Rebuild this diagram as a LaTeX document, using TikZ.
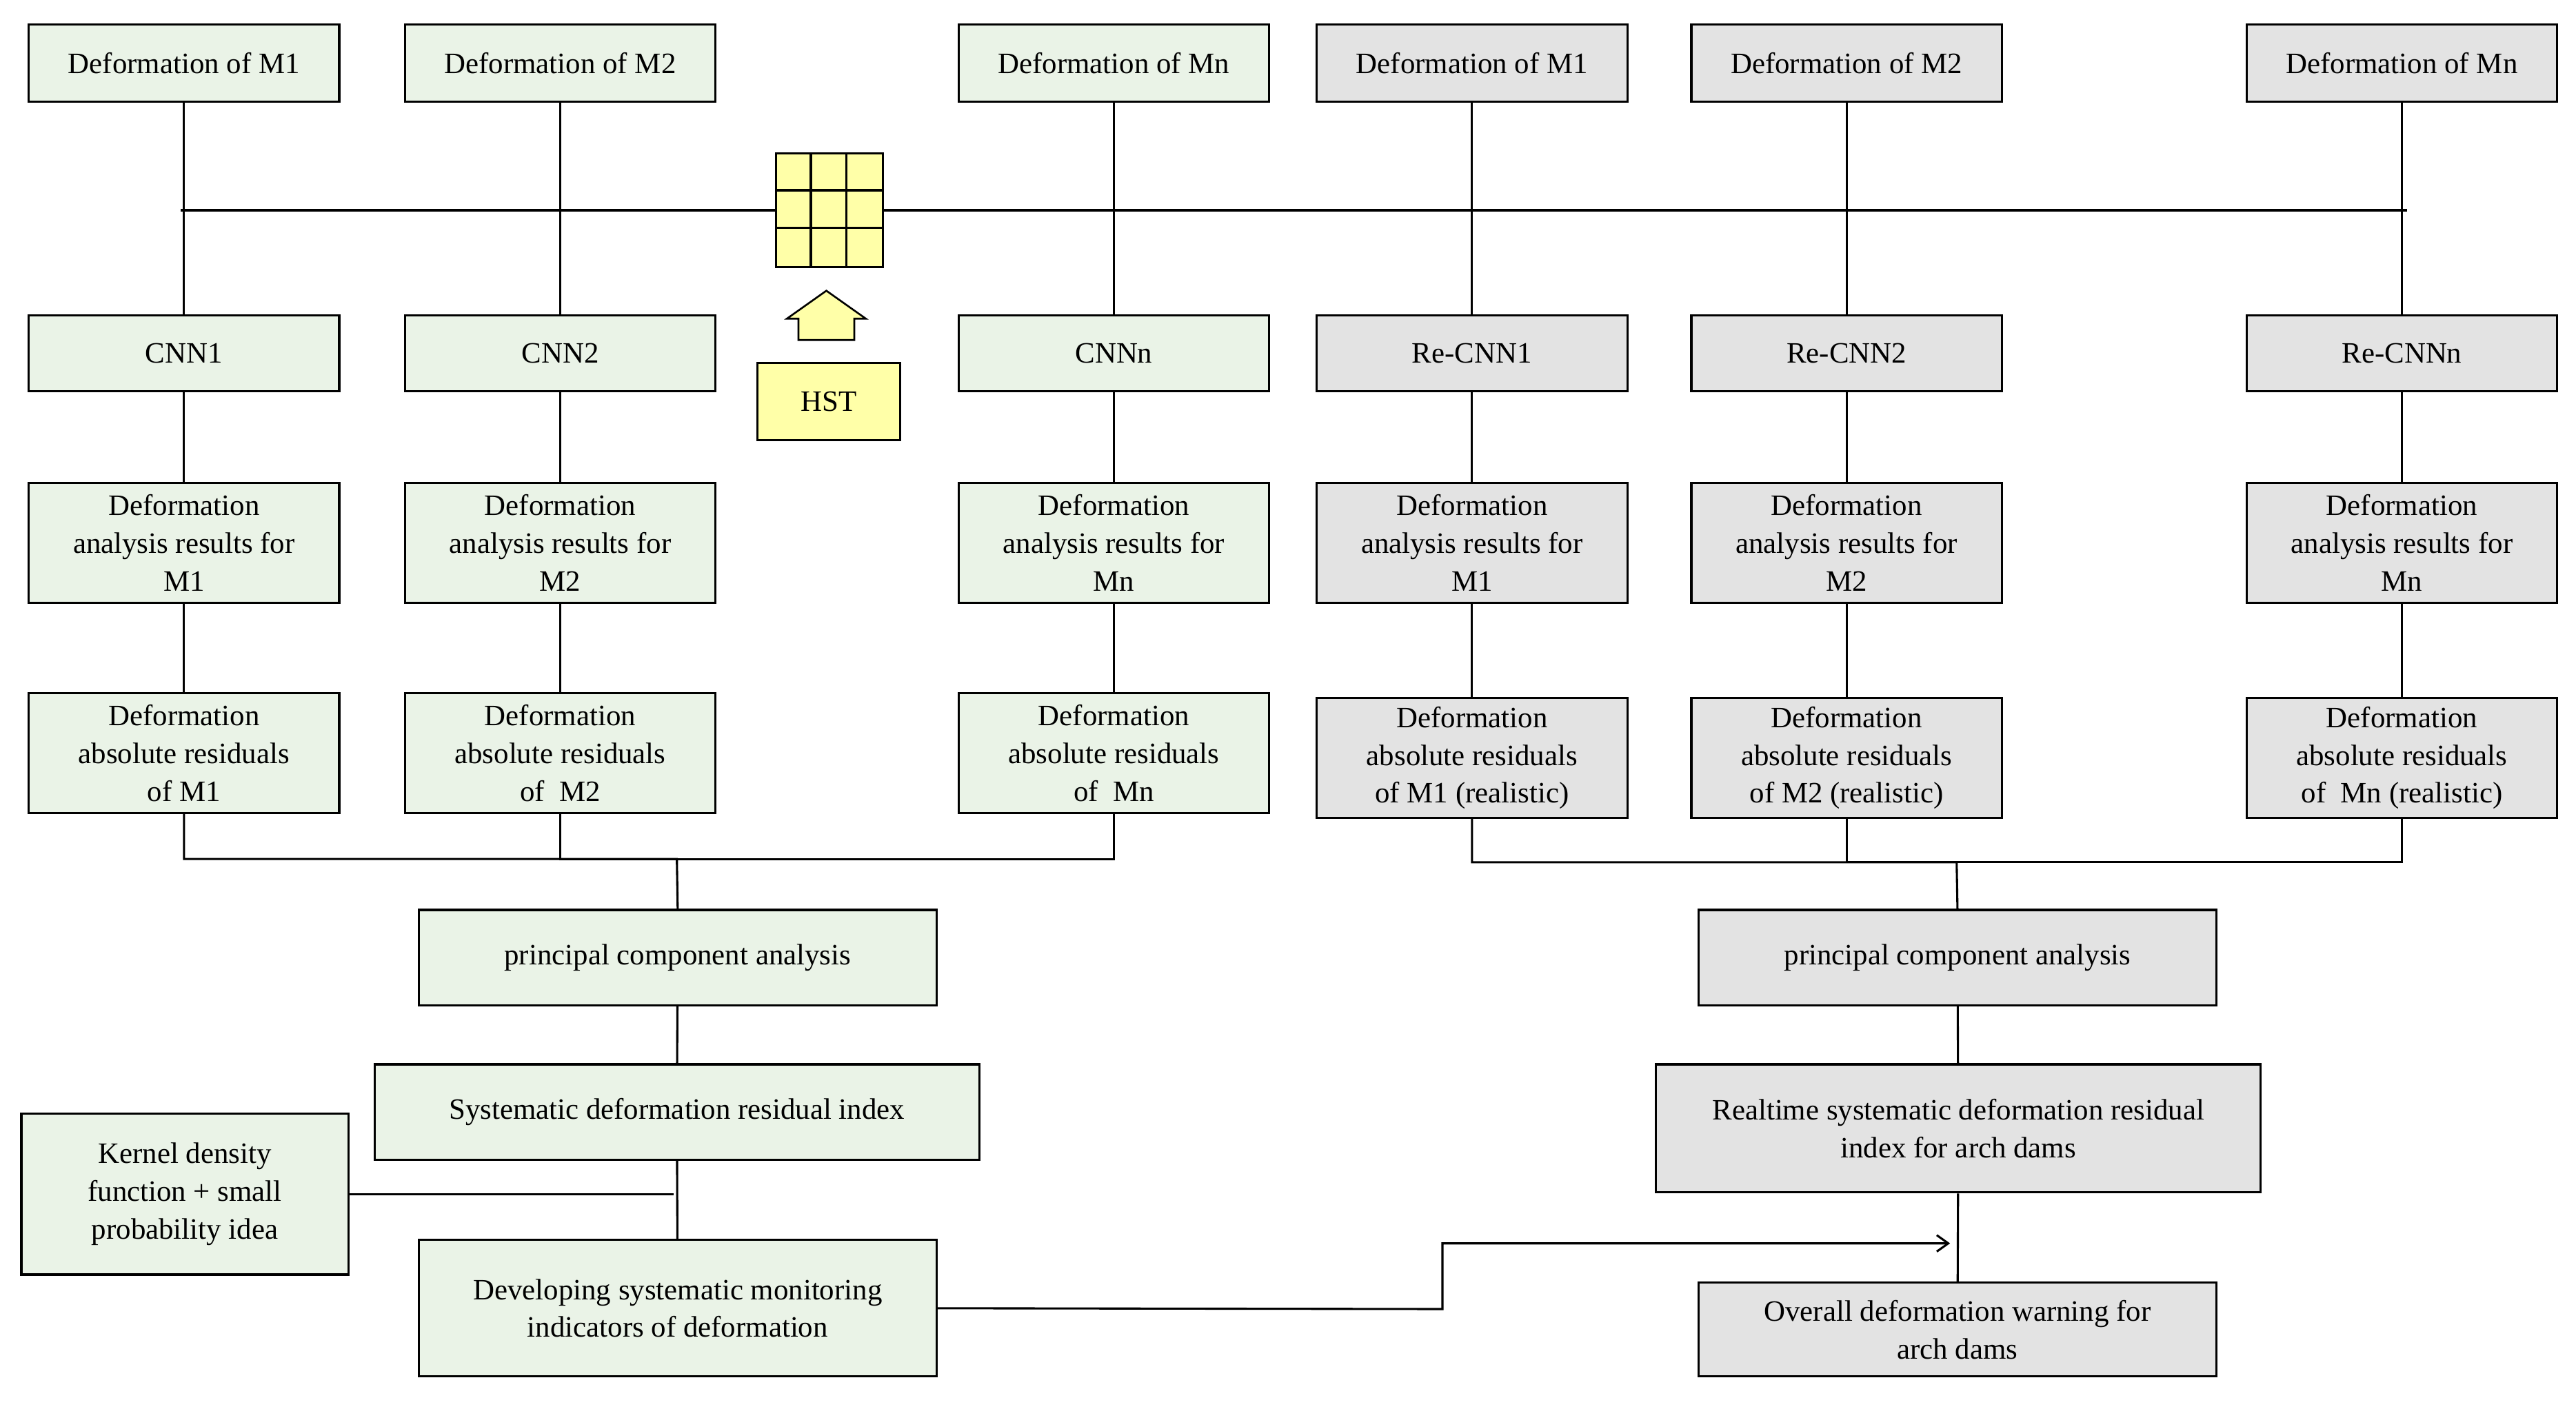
\documentclass[tikz,border=0pt]{standalone}
\usepackage{fontspec}
\setmainfont{Liberation Serif}
\usetikzlibrary{arrows.meta}
\definecolor{gr}{HTML}{EAF3E7}
\definecolor{gy}{HTML}{E3E3E3}
\definecolor{ye}{HTML}{FFFFA8}
\begin{document}
\begin{tikzpicture}[x=1pt,y=-1pt,line width=1.3pt,
 bx/.style={draw,inner sep=0,align=center,font=\fontsize{18}{23}\selectfont,anchor=center},
 gbox/.style={bx,fill=gr}, ybox/.style={bx,fill=gy}]
\useasboundingbox (0,0) rectangle (1568,857.5);
% top bus
\coordinate (bl) at (110,128); \coordinate (br) at (1465,128);
\draw (bl) -- (br);
\foreach \c/\x/\s/\p in {1/112/gbox/1,2/341/gbox/2,3/678/gbox/n,4/896/ybox/1,5/1124/ybox/2,6/1462/ybox/n}{
 \node[\s,minimum width=189,minimum height=47] (t\c) at (\x,38.5) {Deformation of M\p};
}
\node[gbox,minimum width=189,minimum height=46] (c1) at (112,215) {CNN1};
\node[gbox,minimum width=189,minimum height=46] (c2) at (341,215) {CNN2};
\node[gbox,minimum width=189,minimum height=46] (c3) at (678,215) {CNNn};
\node[ybox,minimum width=189,minimum height=46] (c4) at (896,215) {Re-CNN1};
\node[ybox,minimum width=189,minimum height=46] (c5) at (1124,215) {Re-CNN2};
\node[ybox,minimum width=189,minimum height=46] (c6) at (1462,215) {Re-CNNn};
\foreach \c/\x/\s/\p in {1/112/gbox/M1,2/341/gbox/M2,3/678/gbox/Mn,4/896/ybox/M1,5/1124/ybox/M2,6/1462/ybox/Mn}{
 \node[\s,minimum width=189,minimum height=73] (a\c) at (\x,330.5) {Deformation\\analysis results for\\\p};
}
\node[gbox,minimum width=189,minimum height=73] (r1) at (112,458.5) {Deformation\\absolute residuals\\of M1};
\node[gbox,minimum width=189,minimum height=73] (r2) at (341,458.5) {Deformation\\absolute residuals\\of\ \ M2};
\node[gbox,minimum width=189,minimum height=73] (r3) at (678,458.5) {Deformation\\absolute residuals\\of\ \ Mn};
\node[ybox,minimum width=189,minimum height=73] (r4) at (896,461.5) {Deformation\\absolute residuals\\of M1 (realistic)};
\node[ybox,minimum width=189,minimum height=73] (r5) at (1124,461.5) {Deformation\\absolute residuals\\of M2 (realistic)};
\node[ybox,minimum width=189,minimum height=73] (r6) at (1462,461.5) {Deformation\\absolute residuals\\of\ \ Mn (realistic)};
\foreach \i in {1,...,6}{
 \draw (t\i) -- (c\i); \draw (c\i) -- (a\i); \draw (a\i) -- (r\i);
}
% grid
\node[draw,fill=ye,minimum width=65,minimum height=69,inner sep=0] (grid) at (505,128) {};
\draw (grid.north west)++(21.7,0) -- ++(0,69);
\draw (grid.north west)++(43.3,0) -- ++(0,69);
\draw (grid.north west)++(0,23) -- ++(65,0);
\draw (grid.north west)++(0,46) -- ++(65,0);
\node[bx,fill=ye,minimum width=87,minimum height=47] (hst) at (504.5,244.5) {HST};
\draw[fill=ye,line width=1.1pt] (486,207)--(486,194)--(479,194)--(503,177)--(527,194)--(520,194)--(520,207)--cycle;
% left lower
\node[gbox,minimum width=315,minimum height=58] (p1) at (412.5,583) {principal component analysis};
\node[gbox,minimum width=368,minimum height=58] (s1) at (412,677) {Systematic deformation residual index};
\node[gbox,minimum width=199,minimum height=98] (k) at (112.5,727) {Kernel density\\function + small\\probability idea};
\node[gbox,minimum width=315,minimum height=83] (d) at (412.5,796.5) {Developing systematic monitoring\\indicators of deformation};
\coordinate (lb) at (412,523);
\draw (r1.south) |- (lb) -- (p1.north); \draw (r2.south) |- (lb); \draw (r3.south) |- (lb);
\draw (p1) -- (s1); \draw (s1) -- (d);
\coordinate (kj) at (410,727); \draw (k.east |- kj) -- (kj);
% right lower
\node[ybox,minimum width=315,minimum height=58] (p2) at (1191.5,583) {principal component analysis};
\node[ybox,minimum width=368,minimum height=78] (s2) at (1192,687) {Realtime systematic deformation residual\\index for arch dams};
\node[ybox,minimum width=315,minimum height=57] (o) at (1191.5,809.5) {Overall deformation warning for\\arch dams};
\coordinate (rb) at (1191,525);
\draw (r4.south) |- (rb) -- (p2.north); \draw (r5.south) |- (rb); \draw (r6.south) |- (rb);
\draw (p2) -- (s2); \draw (s2) -- (o);
\coordinate (ae) at (1187,757);
\draw[-{Straight Barb[length=7pt,width=10pt]}] (d.east) -- (878,797) -- (878,757) -- (ae);
\end{tikzpicture}
\end{document}
